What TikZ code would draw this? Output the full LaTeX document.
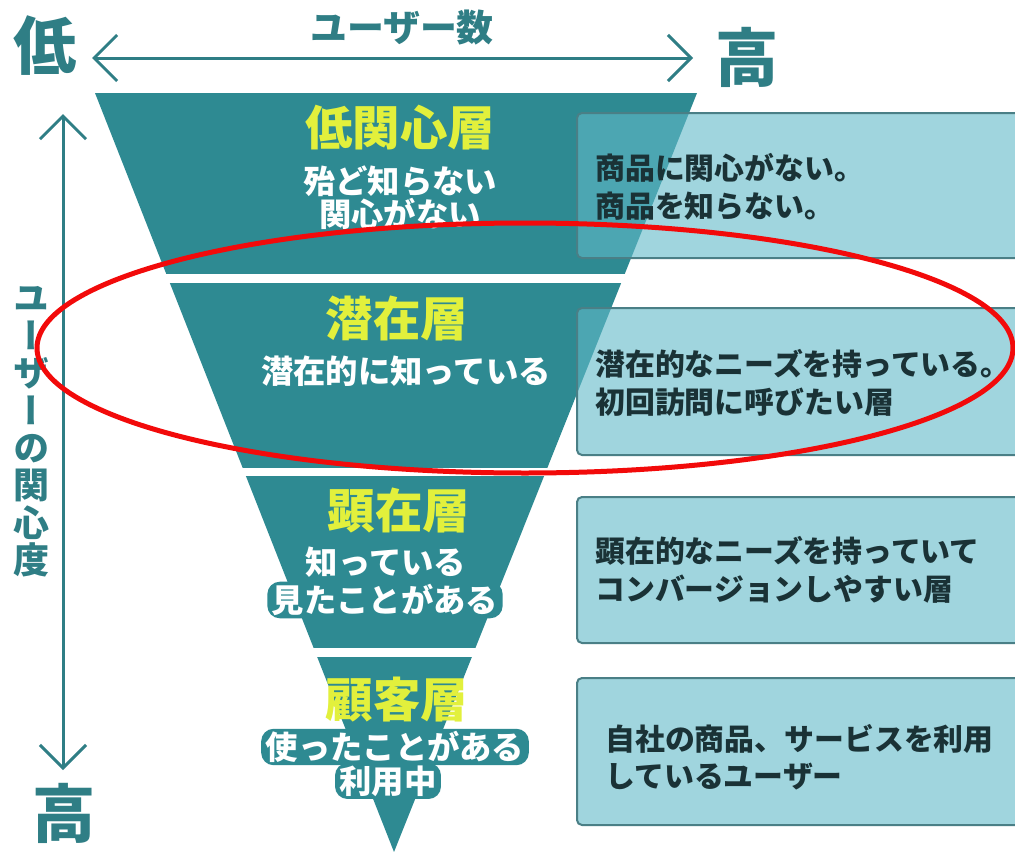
\documentclass[tikz,border=0pt]{standalone}
\usepackage{fontspec}
\setmainfont{Noto Sans CJK JP}
\newfontfamily\vjp{Noto Sans CJK JP}[RawFeature=+vert]
\usetikzlibrary{arrows.meta}
\definecolor{funnelc}{HTML}{2E8A92}
\definecolor{axisc}{HTML}{2F7E85}
\definecolor{ttlc}{HTML}{E2F03C}
\definecolor{boxfill}{HTML}{61B9C8}
\definecolor{boxline}{HTML}{4A7F86}
\definecolor{descc}{HTML}{1A3236}
\definecolor{ringc}{HTML}{F20A0A}
\tikzset{
  axisline/.style={draw=axisc, line width=0.06cm,
    arrows={Straight Barb[length=0.46cm,width=0.92cm,line width=0.06cm]-Straight Barb[length=0.46cm,width=0.92cm,line width=0.06cm]}},
  bigmark/.style={text=axisc, font=\bfseries\fontsize{36pt}{40pt}\selectfont, inner sep=0},
  axislabel/.style={text=axisc, font=\bfseries\fontsize{21pt}{24pt}\selectfont, inner sep=0},
  vlabel/.style={text=axisc, font=\vjp\bfseries\fontsize{20.5pt}{21.3pt}\selectfont, align=center, inner sep=0},
  layertitle/.style={text=ttlc, font=\bfseries\fontsize{27pt}{30pt}\selectfont, inner sep=0},
  layersub/.style={text=white, font=\bfseries\fontsize{18.4pt}{21pt}\selectfont, inner sep=0},
  subpad/.style={fill=funnelc, inner xsep=0.09cm, inner ysep=0.05cm, rounded corners=0.25cm},
  descbox/.style={fill=boxfill, fill opacity=0.6, draw=boxline, line width=0.04cm, rounded corners=0.1cm},
  desctext/.style={text=descc, font=\bfseries\fontsize{17pt}{21.3pt}\selectfont, anchor=west, align=left, inner sep=0},
  ring/.style={draw=ringc, line width=0.1cm}
}
\begin{document}
\begin{tikzpicture}[x=0.02cm,y=-0.02cm]
\useasboundingbox (0,0) rectangle (1015,852);
\fill[white] (0,0) rectangle (1015,852);

% funnel
\begin{scope}
  \clip (95,93) -- (697,93) -- (394,852) -- cycle;
  \fill[funnelc] (0,93) rectangle (1015,274);
  \fill[funnelc] (0,283) rectangle (1015,468);
  \fill[funnelc] (0,476) rectangle (1015,648);
  \fill[funnelc] (0,657) rectangle (1015,852);
\end{scope}

% description boxes
\draw[descbox] (577,113) rectangle (1035,258);
\draw[descbox] (577,308) rectangle (1035,455);
\draw[descbox] (577,497) rectangle (1035,643);
\draw[descbox] (577,678) rectangle (1035,825);

\node[desctext] (d1) at (595,187) {商品に関心がない。\\商品を知らない。};
\node[desctext] (d2) at (595,383) {潜在的なニーズを持っている。\\初回訪問に呼びたい層};
\node[desctext] (d3) at (595,570) {顕在的なニーズを持っていて\\コンバージョンしやすい層};
\node[desctext] (d4) at (605,757) {自社の商品、サービスを利用\\しているユーザー};

% axes
\node[bigmark] (lowtop) at (45,46) {低};
\node[bigmark] (hightop) at (747,57) {高};
\node[bigmark] (highleft) at (64,813) {高};
\node[axislabel] (users) at (402,28) {ユーザー数};
\coordinate (hL) at (92,58);
\coordinate (hR) at (693,58);
\draw[axisline] (hL) -- (hR);
\coordinate (vT) at (63,114);
\coordinate (vB) at (63,770);
\draw[axisline] (vT) -- (vB);
\node[vlabel] (interest) at (32,432) {ユ\\ー\\ザ\\ー\\の\\関\\心\\度};

% funnel texts
\node[layertitle] (t1) at (400,128) {低関心層};
\node[layersub] (s1a) at (400,181) {殆ど知らない};
\node[layersub] (s1b) at (400,214) {関心がない};

\node[layertitle] (t2) at (397,318) {潜在層};
\node[layersub] (s2) at (406,371) {潜在的に知っている};

\node[layertitle] (t3) at (399,510) {顕在層};
\node[layersub] (s3a) at (386,562) {知っている};
\node[layersub, subpad] (s3b) at (385,600) {見たことがある};

\node[layertitle] (t4) at (397,700) {顧客層};
\node[layersub, subpad] (s4a) at (395,747) {使ったことがある};
\node[layersub, subpad] (s4b) at (388,781) {利用中};

% red ring
\draw[ring] (525,348) ellipse [x radius=488, y radius=125];
\end{tikzpicture}
\end{document}
